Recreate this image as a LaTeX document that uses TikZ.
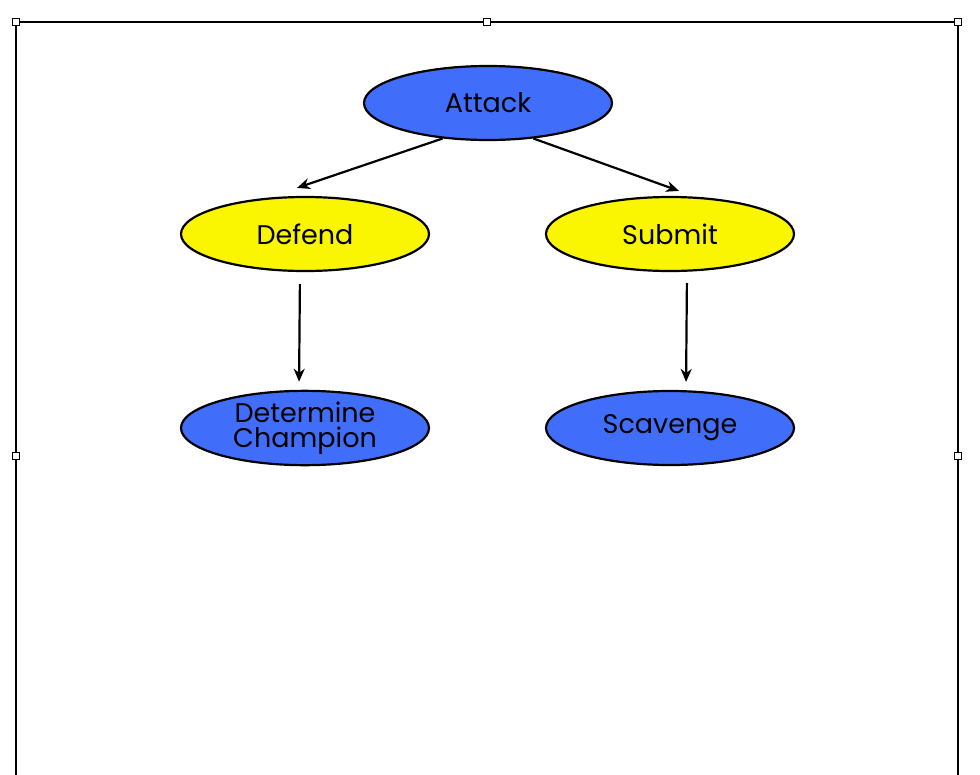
\documentclass[tikz,border=0pt]{standalone}
\usepackage{fontspec}
\setmainfont{Poppins}
\usetikzlibrary{shapes.geometric,arrows.meta}
\begin{document}
\begin{tikzpicture}[x=1pt,y=-1pt,
  ell/.style={ellipse,draw=black,line width=2.2pt,minimum width=248pt,minimum height=74pt,inner sep=0pt,font=\fontsize{27}{25}\selectfont,align=center},
  blue/.style={ell,fill={rgb,255:red,64;green,110;blue,250}},
  yel/.style={ell,fill={rgb,255:red,250;green,245;blue,0}},
  arr/.style={-{Stealth[length=13pt,width=11pt]},line width=2.2pt},
  handle/.style={draw=black,fill=white,line width=0.8pt,minimum size=7pt,inner sep=0pt}]
\useasboundingbox (0,0) rectangle (980,774);
\draw[line width=2pt] (16,22) -- (958,22) -- (958,780) (16,22) -- (16,780);
\foreach \p/\n in {{16,22}/h1,{487,22}/h2,{958,22}/h3,{16,456}/h4,{958,456}/h5}
  \node[handle] (\n) at (\p) {};
\node[blue] (attack) at (488,103) {Attack};
\node[yel] (defend) at (305,234) {Defend};
\node[yel] (submit) at (670,234) {Submit};
\node[blue] (champ) at (305,428) {Determine\\Champion};
\node[blue] (scav) at (670,428) {Scavenge};
\draw[arr] (attack.218) -- ([xshift=-8pt,yshift=8pt]defend.north);
\draw[arr] (attack.322) -- ([xshift=9pt,yshift=5pt]submit.north);
\draw[arr,shorten <=12pt,shorten >=8pt] ([xshift=-5pt]defend.south) -- ([xshift=-6pt]champ.north);
\draw[arr,shorten <=11pt,shorten >=8pt] ([xshift=17pt]submit.south) -- ([xshift=16pt]scav.north);
\end{tikzpicture}
\end{document}
